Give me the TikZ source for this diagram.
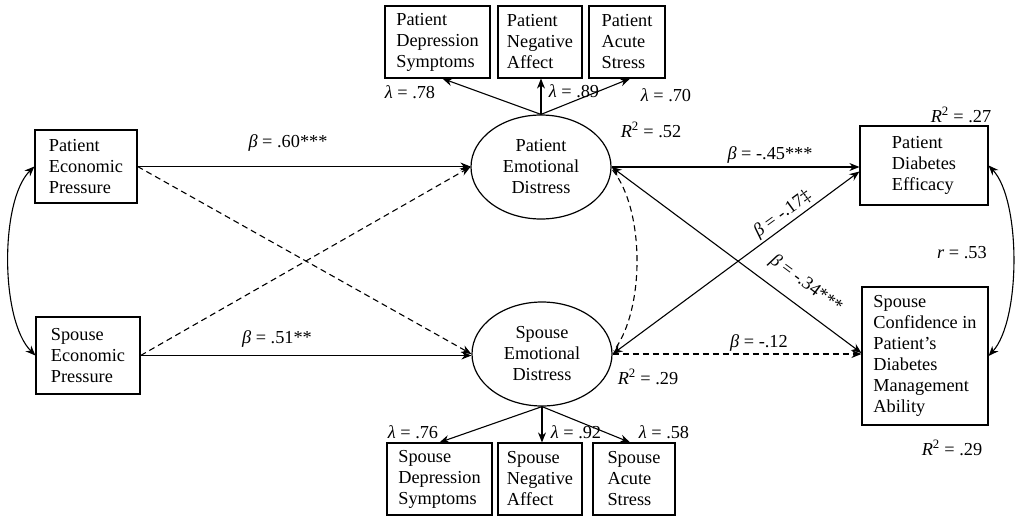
\documentclass[tikz,border=0pt]{standalone}
\usepackage{fontspec}
\setmainfont{Liberation Serif}
\usetikzlibrary{arrows.meta,calc,shapes.geometric}
\begin{document}
\begin{tikzpicture}[x=1pt,y=-1pt,
  every node/.style={font=\fontsize{18.3}{21}\selectfont},
  obox/.style={draw,line width=1.2pt,align=left,inner sep=0pt},
  lat/.style={draw,ellipse,line width=1.2pt,minimum width=140pt,minimum height=104pt,align=center,inner sep=0pt},
  conn/.style={line width=1.1pt},
  arr/.style={conn,-{Stealth[length=10pt,width=8pt]}},
  darr/.style={conn,{Stealth[length=10pt,width=8pt]}-{Stealth[length=10pt,width=8pt]}},
  dsh/.style={dash pattern=on 6pt off 4pt},
  lab/.style={inner sep=1pt}]
\useasboundingbox (0,0) rectangle (1015,517);

% observed boxes
\node[obox,minimum width=102pt,minimum height=73pt] (pep) at (86,166.5) {Patient\\Economic\\Pressure};
\node[obox,minimum width=104pt,minimum height=77pt] (sep) at (88,355.5) {Spouse\\Economic\\Pressure};
\node[obox,minimum width=105pt,minimum height=72pt] (pds) at (437.5,42) {Patient\\Depression\\Symptoms};
\node[obox,minimum width=84pt,minimum height=72pt] (pna) at (540,42) {Patient\\Negative\\Affect};
\node[obox,minimum width=76pt,minimum height=72pt] (pas) at (627,42) {Patient\\Acute\\Stress};
\node[obox,minimum width=105pt,minimum height=72pt] (sds) at (439.5,479) {Spouse\\Depression\\Symptoms};
\node[obox,minimum width=84pt,minimum height=72pt] (sna) at (540,479) {Spouse\\Negative\\Affect};
\node[obox,minimum width=82pt,minimum height=72pt] (sas) at (634,479) {Spouse\\Acute\\Stress};
\node[obox,minimum width=128pt,minimum height=79pt] (pde) at (924,165.5) {Patient\\Diabetes\\Efficacy};
\node[obox,minimum width=126pt,minimum height=138pt] (scd) at (925,356) {Spouse\\Confidence in\\Patient’s\\Diabetes\\Management\\Ability};

% latent variables
\node[lat] (ped) at (541,167) {Patient\\Emotional\\Distress};
\node[lat] (sed) at (542,354) {Spouse\\Emotional\\Distress};

% loadings
\draw[arr] (ped.north) -- ($(pds.south)+(5,0)$);
\draw[arr] (ped.north) -- (ped.north |- pna.south);
\draw[arr] (ped.north) -- ($(pas.south)+(3,0)$);
\draw[arr] (sed.south) -- (sds.north);
\draw[arr] (sed.south) -- (sed.south |- sna.north);
\draw[arr] (sed.south) -- ($(sas.north)+(-4,0)$);

% structural paths
\draw[arr] (pep.east) -- (pep.east -| ped.west);
\draw[arr] (sep.east) -- (sep.east -| sed.west);
\draw[arr,dsh] (pep.east) -- (sed.west);
\draw[arr,dsh] (sep.east) -- (ped.west);
\draw[arr] (ped.east) -- (ped.east -| pde.west);
\draw[arr,dsh] (sed.east) -- (sed.east -| scd.west);
\draw[darr] (ped.east) -- ($(scd.west)+(0,-3)$);
\draw[darr] (sed.east) -- ($(pde.west)+(0,6)$);
\draw[conn,dsh] ($(ped.east)+(1,3)$) .. controls (645,210) and (645,310) .. ($(sed.east)+(1,-3)$);

% covariances
\draw[darr] (pep.west) .. controls (0,200) and (0,320) .. (sep.west);
\draw[darr] (pde.east) .. controls (1021,200) and (1021,320) .. (scd.east);

% labels
\node[lab] (l78) at (410,92) {\textit{λ} = .78};
\node[lab] (l89) at (574,91) {\textit{λ} = .89};
\node[lab] (l70) at (666,95) {\textit{λ} = .70};
\node[lab] (l76) at (413,432) {\textit{λ} = .76};
\node[lab] (l92) at (576,432) {\textit{λ} = .92};
\node[lab] (l58) at (664,432) {\textit{λ} = .58};
\node[lab] (b60) at (288,143) {\textit{β} = .60***};
\node[lab] (b51) at (277,339) {\textit{β} = .51**};
\node[lab] (b45) at (770,155) {\textit{β} = -.45***};
\node[lab] (b12) at (759,343) {\textit{β} = -.12};
\node[lab,rotate=36] (b17) at (783,214) {\textit{β} = -.17\ddag};
\node[lab,rotate=-36.5] (b34) at (806,284) {\textit{β} = -.34***};
\node[lab] (r52) at (651,130) {\textit{R}\textsuperscript{2} = .52};
\node[lab] (r29a) at (648,377) {\textit{R}\textsuperscript{2} = .29};
\node[lab] (r27) at (961,115) {\textit{R}\textsuperscript{2} = .27};
\node[lab] (r53) at (962,253) {\textit{r} = .53};
\node[lab] (r29b) at (952,448) {\textit{R}\textsuperscript{2} = .29};
\end{tikzpicture}
\end{document}
